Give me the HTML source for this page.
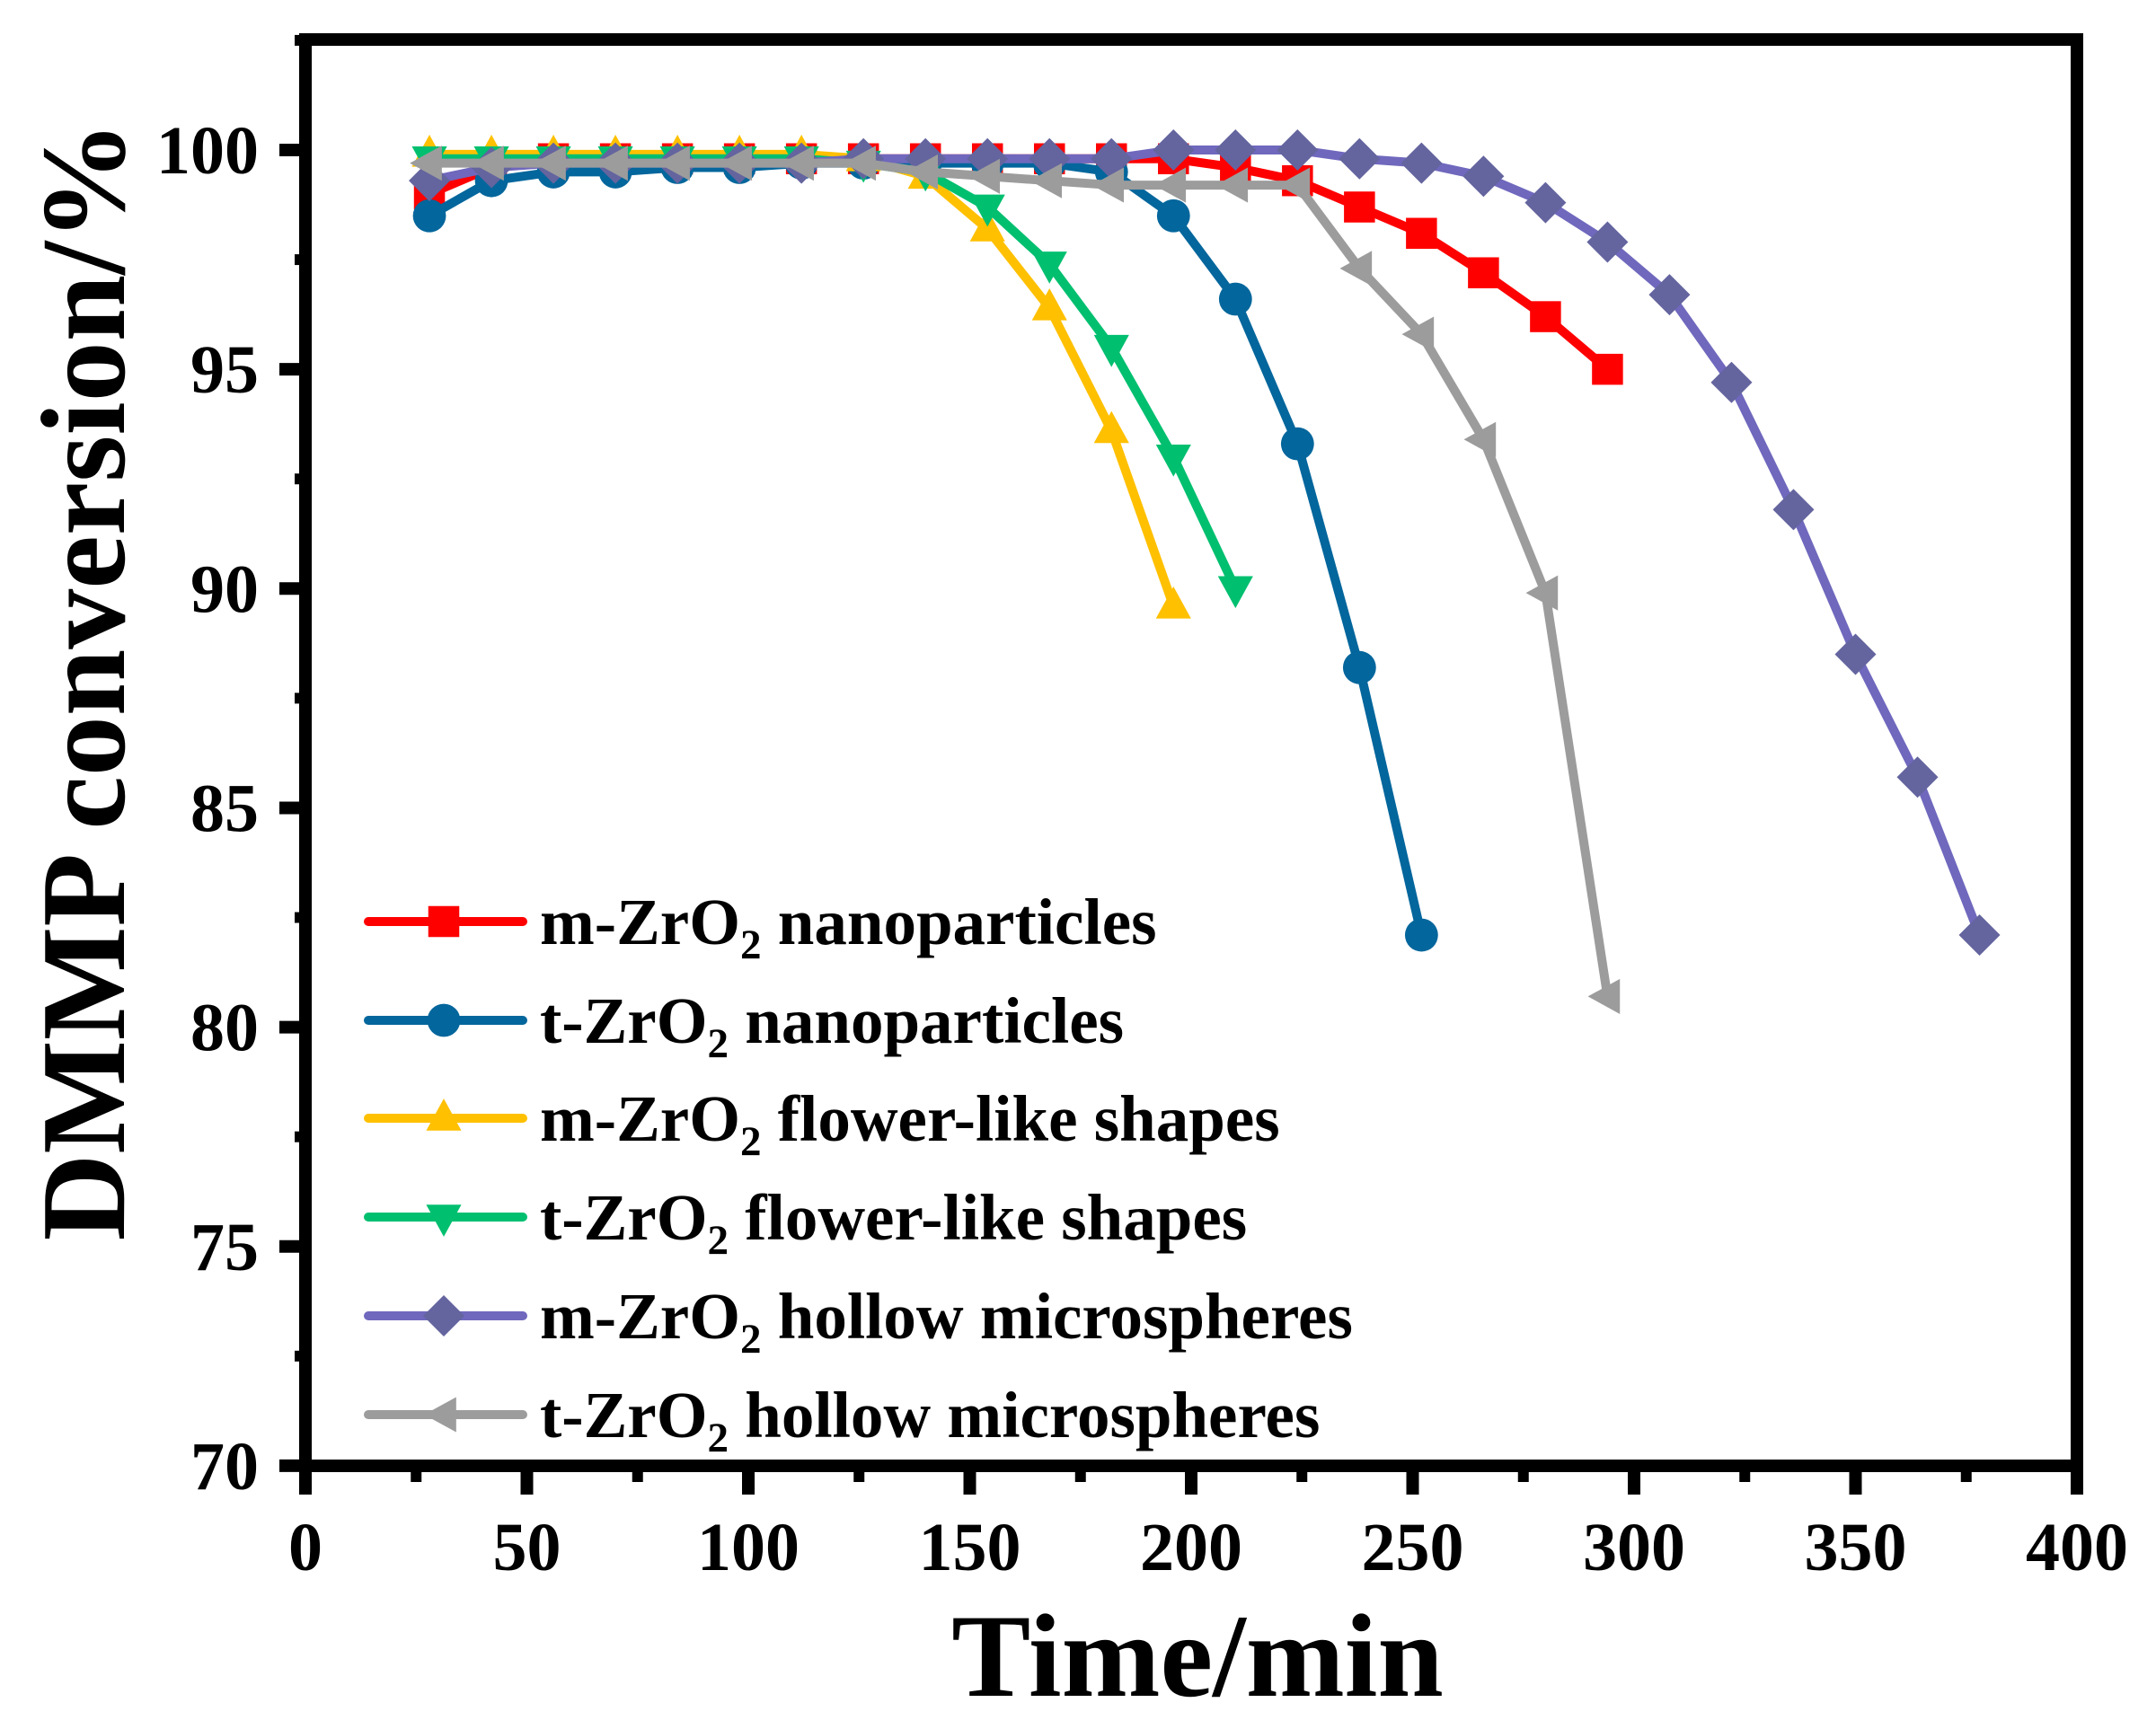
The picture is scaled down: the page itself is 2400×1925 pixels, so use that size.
<!DOCTYPE html>
<html><head><meta charset="utf-8">
<style>
html,body{margin:0;padding:0;background:#fff;}
svg{display:block;}
text{font-family:"Liberation Serif","Times New Roman",serif;font-weight:bold;fill:#000;}
</style></head>
<body>
<svg id="chart" width="2400" height="1925" viewBox="0 0 2400 1925" xmlns="http://www.w3.org/2000/svg">
<rect width="2400" height="1925" fill="#fff"/>
<g id="series"></g>
<g id="legend"></g>
<g id="axes"></g>
<text x="1333" y="1888" font-size="132" text-anchor="middle">Time/min</text>
<text x="0" y="0" font-size="134" text-anchor="middle" transform="translate(138,758) rotate(-90)">DMMP conversion/%</text>
</svg>
<script>
const xTicks = [0,50,100,150,200,250,300,350,400];
const yTicks = [70,75,80,85,90,95,100];
const times = [28,42,56,70,84,98,112,126,140,154,168,182,196,210,224,238,252,266,280,294,308,322,336,350,364,378];
const seriesNames = ["m-ZrO2 nanoparticles","t-ZrO2 nanoparticles","m-ZrO2 flower-like shapes","t-ZrO2 flower-like shapes","m-ZrO2 hollow microspheres","t-ZrO2 hollow microspheres"];
const mNano = [99.0,99.6,99.8,99.8,99.8,99.8,99.8,99.8,99.8,99.8,99.8,99.8,99.8,99.6,99.3,98.7,98.1,97.2,96.2,95.0];
const tNano = [98.5,99.3,99.5,99.5,99.6,99.6,99.7,99.7,99.7,99.7,99.7,99.5,98.5,96.6,93.3,88.2,82.1];
const mFlower = [99.9,99.9,99.9,99.9,99.9,99.9,99.9,99.8,99.4,98.2,96.4,93.6,89.6];
const tFlower = [99.8,99.8,99.8,99.8,99.8,99.8,99.8,99.7,99.5,98.7,97.4,95.5,93.0,90.0];
const mHollow = [99.3,99.6,99.7,99.7,99.7,99.7,99.7,99.8,99.8,99.8,99.8,99.8,100.0,100.0,100.0,99.8,99.7,99.4,98.8,97.9,96.7,94.7,91.8,88.5,85.7,82.1];
const tHollow = [99.7,99.7,99.7,99.7,99.7,99.7,99.7,99.7,99.5,99.4,99.3,99.2,99.2,99.2,99.2,97.3,95.8,93.4,89.9,80.7];

const X0=340, X1=2312, Y100=167, YPU=48.83;
function xs(t){return X0+(t-0)*(X1-X0)/400;}
function ys(v){return Y100+(100-v)*YPU;}
const NS="http://www.w3.org/2000/svg";
function mk(tag,attrs,parent){const e=document.createElementNS(NS,tag);for(const k in attrs)e.setAttribute(k,attrs[k]);parent.appendChild(e);return e;}

const styles=[
 {line:"#ff0000",fill:"#ff0000",m:"square"},
 {line:"#03669c",fill:"#03669c",m:"circle"},
 {line:"#ffc000",fill:"#ffc000",m:"up"},
 {line:"#00bf6f",fill:"#00bf6f",m:"down"},
 {line:"#6f68bd",fill:"#64649f",m:"diamond"},
 {line:"#9c9c9c",fill:"#9c9c9c",m:"left"}];
const data=[mNano,tNano,mFlower,tFlower,mHollow,tHollow];

function marker(type,cx,cy,fill,parent,s){
 s=s||1.15;let e;
 if(type==="square") e=mk("rect",{x:cx-15*s,y:cy-15*s,width:30*s,height:30*s,fill:fill},parent);
 else if(type==="circle") e=mk("circle",{cx:cx,cy:cy,r:16*s,fill:fill},parent);
 else {
  let p;
  if(type==="up") p=[[0,-19],[17,12],[-17,12]];
  else if(type==="down") p=[[0,19],[17,-12],[-17,-12]];
  else if(type==="left") p=[[-19,0],[12,-17],[12,17]];
  else p=[[0,-20],[20,0],[0,20],[-20,0]];
  e=mk("polygon",{points:p.map(q=>(cx+q[0]*s)+","+(cy+q[1]*s)).join(" "),fill:fill},parent);
 }
 return e;
}

const sg=document.getElementById("series");
data.forEach((vals,i)=>{
 const g=mk("g",{},sg);
 
 
 const pts=vals.map((v,j)=>xs(times[j])+","+ys(v)).join(" ");
 const pl=mk("polyline",{points:pts,fill:"none",stroke:styles[i].line,"stroke-width":10,"stroke-linejoin":"round","stroke-linecap":"round"},g);
 
 
 vals.forEach((v,j)=>{
  const m=marker(styles[i].m,xs(times[j]),ys(v),styles[i].fill,g);
  
  
 });
});

// legend
const lg=document.getElementById("legend");
const legY=[1026,1136,1245,1355,1465,1575];
seriesNames.forEach((n,i)=>{
 const g=mk("g",{},lg);
 
 
 mk("line",{x1:410,y1:legY[i],x2:582,y2:legY[i],stroke:styles[i].line,"stroke-width":10,"stroke-linecap":"round"},g);
 marker(styles[i].m,494,legY[i],styles[i].fill,g);
 const parts=n.split("ZrO2");
 const t=mk("text",{x:601,y:legY[i]+25,"font-size":73},g);
 t.appendChild(document.createTextNode(parts[0]+"ZrO"));
 const sub=mk("tspan",{dy:16,"font-size":47},t); sub.textContent="2";
 const rest=mk("tspan",{dy:-16},t); rest.textContent=parts[1];
});

// axes
const ag=document.getElementById("axes");
const frame=mk("rect",{x:X0,y:44,width:X1-X0,height:1632-44,fill:"none",stroke:"#000","stroke-width":14},ag);


xTicks.forEach((t,i)=>{
 mk("line",{x1:xs(t),y1:1632,x2:xs(t),y2:1664,stroke:"#000","stroke-width":14},ag);
 if(i<xTicks.length-1) mk("line",{x1:xs(t+25),y1:1632,x2:xs(t+25),y2:1650,stroke:"#000","stroke-width":12},ag);
 const tx=mk("text",{x:xs(t),y:1748,"font-size":76,"text-anchor":"middle"},ag);
 
 
 tx.textContent=t;
});
yTicks.forEach((v,i)=>{
 mk("line",{x1:X0,y1:ys(v),x2:311,y2:ys(v),stroke:"#000","stroke-width":14},ag);
 mk("line",{x1:X0,y1:ys(v+2.5),x2:328,y2:ys(v+2.5),stroke:"#000","stroke-width":12},ag);
 const tx=mk("text",{x:288,y:ys(v)+26,"font-size":76,"text-anchor":"end"},ag);
 
 
 tx.textContent=v;
});
</script>
</body></html>
